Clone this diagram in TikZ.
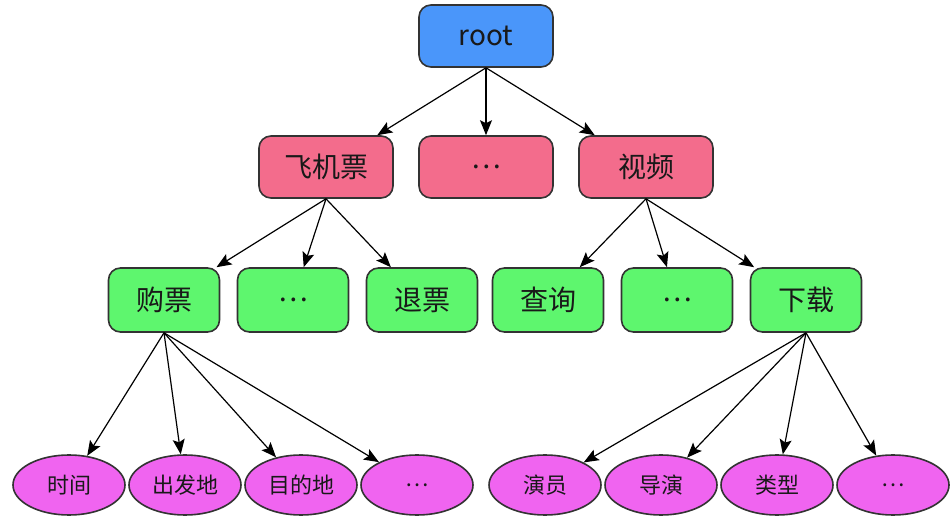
\documentclass[tikz,border=0pt]{standalone}
\usepackage{fontspec}
\setmainfont{Noto Sans CJK SC}
\usetikzlibrary{trees,shapes.geometric,arrows.meta}

\definecolor{rootblue}{RGB}{74,150,250}
\definecolor{catpink}{RGB}{243,108,140}
\definecolor{taskgreen}{RGB}{94,246,110}
\definecolor{slotpink}{RGB}{240,100,240}

\begin{document}
\begin{tikzpicture}[
		every node/.style={draw=black!80,line width=0.8pt,text=black!90},
		box/.style={rounded corners=6pt,minimum width=67pt,minimum height=31pt,
			font=\fontsize{14}{16}\selectfont},
		task/.style={box,fill=taskgreen,minimum width=55.5pt,minimum height=32pt},
		slot/.style={ellipse,fill=slotpink,minimum width=56pt,minimum height=30pt,
			inner sep=0pt,font=\fontsize{11}{13}\selectfont},
		edge from parent/.style={draw,black,line width=0.6pt,
			-{Stealth[length=7.5pt,width=6pt,inset=1.5pt]}},
		edge from parent path={(\tikzparentnode.south) -- (\tikzchildnode)},
		level 1/.style={level distance=65.5pt,sibling distance=80pt},
		level 2/.style={level distance=66.5pt,sibling distance=64.5pt},
		level 3/.style={level distance=92.5pt,sibling distance=58pt},
	]
	\useasboundingbox (0,0) rectangle (475.5pt,-258.5pt);
	\node[box,fill=rootblue] (root) at (243pt,-18pt) {root}
	child{
		node[box,fill=catpink] (plane) {飞机票}
		child[xshift=-16.5pt] {
			node[task] (buy) {购票}
			child[xshift=39.5pt] {node[slot] (time) {时间}}
			child[xshift=39.5pt] {node[slot] (from) {出发地}}
			child[xshift=39.5pt] {node[slot] (dest) {目的地}}
			child[xshift=39.5pt] {node[slot] (buymore) {…}}
		}
		child[xshift=-16.5pt] {node[task] (planemore) {…}}
		child[xshift=-16.5pt] {node[task] (refund) {退票}}
	}
	child{
		node[box,fill=catpink] (rootmore) {…}
	}
	child{
		node[box,fill=catpink] (video) {视频}
		child[xshift=15.5pt] {node[task] (query) {查询}}
		child[xshift=15.5pt] {node[task] (videomore) {…}}
		child[xshift=15.5pt] {
			node[task] (download) {下载}
			child[xshift=-43.5pt] {node[slot] (actor) {演员}}
			child[xshift=-43.5pt] {node[slot] (director) {导演}}
			child[xshift=-43.5pt] {node[slot] (genre) {类型}}
			child[xshift=-43.5pt] {node[slot] (dlmore) {…}}
		}
	};
\end{tikzpicture}
\end{document}
